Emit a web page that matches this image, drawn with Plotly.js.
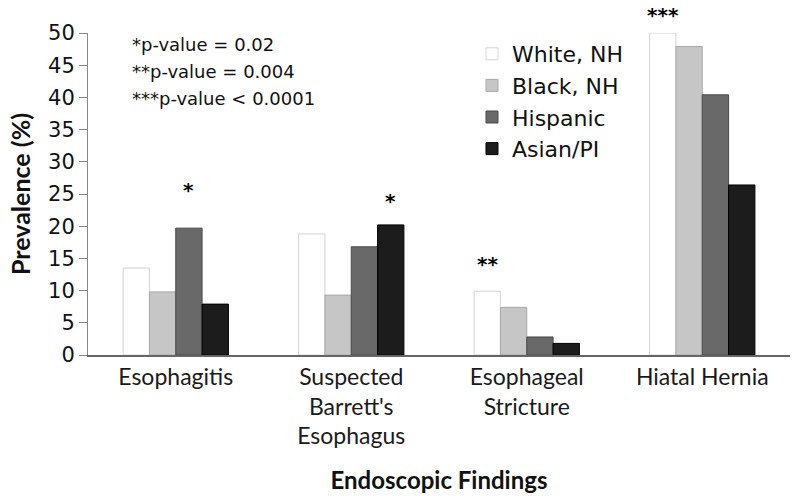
<!DOCTYPE html>
<html><head><meta charset="utf-8">
<script src="https://cdn.plot.ly/plotly-3.0.1.min.js"></script>
<style>body{margin:0;background:#fff}#c{width:800px;height:496px}</style>
</head><body><div id="c"></div>
<script>
const categories = ["Esophagitis", "Suspected<br>Barrett's<br>Esophagus", "Esophageal<br>Stricture", "Hiatal Hernia"];
const seriesNames = ["White, NH", "Black, NH", "Hispanic", "Asian/PI"];
const whiteNH = [13.5, 18.8, 9.9, 50];
const blackNH = [9.8, 9.3, 7.4, 47.9];
const hispanic = [19.7, 16.8, 2.8, 40.4];
const asianPI = [7.9, 20.2, 1.8, 26.4];
const starLabels = ["*", "*", "**", "***"];
const starSeries = [2, 3, 0, 0];
const starY = [25.6, 23.9, 11.9, 55.0];
const pNotes = ["*p-value = 0.02", "**p-value = 0.004", "***p-value < 0.0001"];

const calib = "Lato, 'Open Sans', sans-serif";
const luc = "'DejaVu Sans', Verdana, sans-serif";
const fills = ["#ffffff", "#c6c6c6", "#696969", "#1c1c1c"];
const edges = ["#d4d4d4", "#a8a8a8", "#4a4a4a", "#000000"];
const values = [whiteNH, blackNH, hispanic, asianPI];

const traces = values.map((v, i) => ({
  type: "bar", x: categories, y: v, name: seriesNames[i],
  marker: {color: fills[i], line: {color: edges[i], width: 1}},
  hoverinfo: "skip", cliponaxis: false
}));

const nb = 4, groupFrac = 0.6;
const annotations = starLabels.map((s, k) => {
  const off = (-groupFrac/2 + groupFrac/nb*(starSeries[k] + 0.5));
  return {x: k + off, y: starY[k] / 50, xref: "x", yref: "paper", text: "<b>" + s + "</b>", showarrow: false,
          font: {family: luc, size: 20, color: "#000"}};
});
const noteY = [0.963, 0.880, 0.798];
pNotes.forEach((t, i) => annotations.push({x: 0.06, y: noteY[i], xref: "paper", yref: "paper", xanchor: "left", yanchor: "middle",
  text: t, align: "left", showarrow: false, font: {family: luc, size: 18, color: "#111"}}));

const layout = {
  width: 800, height: 496,
  margin: {l: 88, r: 10, t: 33, b: 141},
  paper_bgcolor: "#fff", plot_bgcolor: "#fff",
  barmode: "group", bargap: 0.4, bargroupgap: 0,
  showlegend: true,
  legend: {x: 0.547, y: 1.0, xanchor: "left", yanchor: "top", font: {family: luc, size: 22, color: "#111"},
           tracegroupgap: 1, itemwidth: 30, bgcolor: "rgba(0,0,0,0)"},
  xaxis: {type: "category", showline: true, linecolor: "#666", linewidth: 2, ticks: "", showgrid: false,
          tickfont: {family: calib, size: 23, color: "#1a1a1a"}, automargin: false,
          title: {text: "<b>Endoscopic Findings</b>", font: {family: calib, size: 24, color: "#111"}, standoff: 24}},
  yaxis: {range: [0, 50], dtick: 5, showline: true, linecolor: "#888", linewidth: 1, ticks: "outside", ticklen: 8, tickcolor: "#888",
          showgrid: false, zeroline: false, automargin: false, tickfont: {family: luc, size: 21, color: "#111"},
          title: {text: "<b>Prevalence (%)</b>", font: {family: calib, size: 25, color: "#111"}, standoff: 10}},
  annotations: annotations
};
Plotly.newPlot("c", traces, layout, {staticPlot: true});
</script></body></html>
